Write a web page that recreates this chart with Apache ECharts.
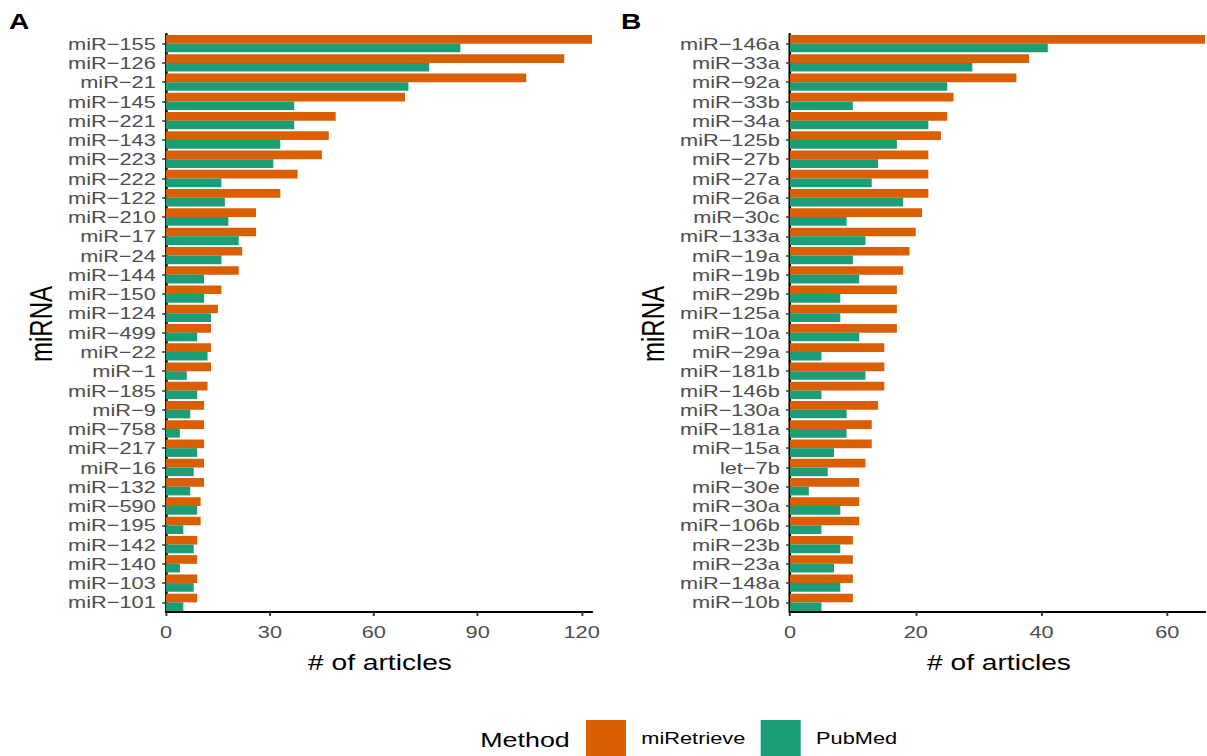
<!DOCTYPE html>
<html><head><meta charset="utf-8">
<script src="https://cdn.jsdelivr.net/npm/echarts@6/dist/echarts.min.js"></script>
<style>
html,body{margin:0;padding:0;background:#fff;overflow:hidden}
#wrap{width:1207px;height:756px;overflow:hidden}
#c{width:943px;height:756px;transform:scaleX(1.28);transform-origin:0 0}
</style>
</head><body><div id="wrap"><div id="c"></div></div>
<script>
const categoriesA = ["miR−155","miR−126","miR−21","miR−145","miR−221","miR−143","miR−223","miR−222","miR−122","miR−210","miR−17","miR−24","miR−144","miR−150","miR−124","miR−499","miR−22","miR−1","miR−185","miR−9","miR−758","miR−217","miR−16","miR−132","miR−590","miR−195","miR−142","miR−140","miR−103","miR−101"];
const miRetrieveA = [123,115,104,69,49,47,45,38,33,26,26,22,21,16,15,13,13,13,12,11,11,11,11,11,10,10,9,9,9,9];
const pubmedA = [85,76,70,37,37,33,31,16,17,18,21,16,11,11,13,9,12,6,9,7,4,9,8,7,9,5,8,4,8,5];

const categoriesB = ["miR−146a","miR−33a","miR−92a","miR−33b","miR−34a","miR−125b","miR−27b","miR−27a","miR−26a","miR−30c","miR−133a","miR−19a","miR−19b","miR−29b","miR−125a","miR−10a","miR−29a","miR−181b","miR−146b","miR−130a","miR−181a","miR−15a","let−7b","miR−30e","miR−30a","miR−106b","miR−23b","miR−23a","miR−148a","miR−10b"];
const miRetrieveB = [66,38,36,26,25,24,22,22,22,21,20,19,18,17,17,17,15,15,15,14,13,13,12,11,11,11,10,10,10,10];
const pubmedB = [41,29,25,10,22,17,14,13,18,9,12,10,11,8,8,11,5,12,5,9,9,7,6,3,8,5,8,7,8,5];

const ticksA = [0,30,60,90,120];
const ticksB = [0,20,40,60];

const FONT = '"Liberation Sans", Arial, Helvetica, sans-serif';
const ORANGE = '#D95F02', GREEN = '#1B9E77';
const SX = 1.28; // horizontal stretch of the reference rendering
const X = v => v / SX;

function xAxis(gi, max, ticks){
  return {
    type:'value', gridIndex:gi, min:0, max:max,
    axisLine:{show:true, lineStyle:{color:'#000', width:2}},
    axisTick:{show:true, length:4, lineStyle:{color:'#333', width:1.5}, customValues:ticks},
    axisLabel:{customValues:ticks, color:'#4D4D4D', fontSize:17, fontFamily:FONT, margin:11},
    splitLine:{show:false}
  };
}
function yAxis(gi, cats){
  return {
    type:'category', gridIndex:gi, data:cats, inverse:true,
    axisLine:{show:true, lineStyle:{color:'#000', width:2}},
    axisTick:{show:true, length:3, alignWithLabel:true, lineStyle:{color:'#333', width:1.5}},
    axisLabel:{color:'#4D4D4D', fontSize:17, fontFamily:FONT, margin:8, interval:0},
    splitLine:{show:false}
  };
}
function bar(name, data, gi, color){
  return {
    type:'bar', name:name, data:data, xAxisIndex:gi, yAxisIndex:gi,
    itemStyle:{color:color}, barGap:'0%', barCategoryGap:'10%',
    emphasis:{disabled:true}
  };
}

const chart = echarts.init(document.getElementById('c'), null, {renderer:'svg', width:943, height:756});
chart.setOption({
  animation:false,
  backgroundColor:'#fff',
  grid:[
    {left:X(166), top:34, width:X(592)-X(166), height:578},
    {left:X(790), top:34, width:X(1205)-X(790), height:578}
  ],
  xAxis:[xAxis(0, 123, ticksA), xAxis(1, 66, ticksB)],
  yAxis:[yAxis(0, categoriesA), yAxis(1, categoriesB)],
  legend:{
    left:X(586), top:720, padding:0, itemWidth:X(626)-X(586), itemHeight:36, itemGap:12,
    icon:'rect',
    data:['miRetrieve','PubMed'],
    textStyle:{fontSize:17, fontFamily:FONT, color:'#000', padding:[0,0,0,7]}
  },
  series:[
    bar('miRetrieve', miRetrieveA, 0, ORANGE),
    bar('PubMed', pubmedA, 0, GREEN),
    bar('miRetrieve', miRetrieveB, 1, ORANGE),
    bar('PubMed', pubmedB, 1, GREEN)
  ],
  graphic:[
    {type:'text', left:X(9), top:10, style:{text:'A', font:'bold 22px '+FONT, fill:'#000'}},
    {type:'text', left:X(621), top:10, style:{text:'B', font:'bold 22px '+FONT, fill:'#000'}},
    {type:'text', x:X(380), y:662, style:{text:'# of articles', font:'22px '+FONT, fill:'#000', align:'center', verticalAlign:'middle'}},
    {type:'text', x:X(999), y:662, style:{text:'# of articles', font:'22px '+FONT, fill:'#000', align:'center', verticalAlign:'middle'}},
    {type:'text', x:X(41), y:324, rotation:Math.PI/2, style:{text:'miRNA', font:'24px '+FONT, fill:'#000', align:'center', verticalAlign:'middle'}},
    {type:'text', x:X(653), y:324, rotation:Math.PI/2, style:{text:'miRNA', font:'24px '+FONT, fill:'#000', align:'center', verticalAlign:'middle'}},
    {type:'text', x:X(525), y:740, style:{text:'Method', font:'21px '+FONT, fill:'#000', align:'center', verticalAlign:'middle'}}
  ]
});
</script></body></html>
